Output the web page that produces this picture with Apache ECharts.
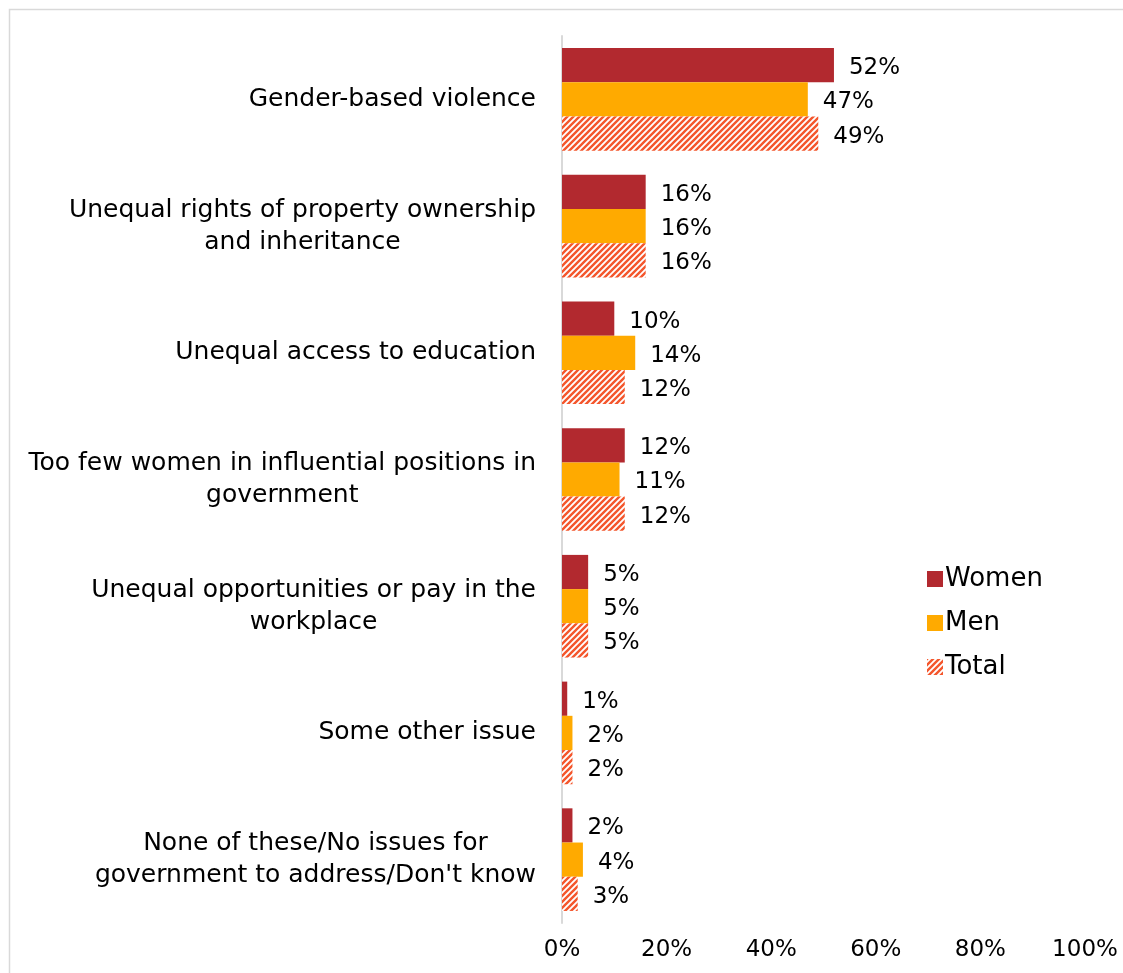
<!DOCTYPE html>
<html>
<head>
<meta charset="utf-8">
<script src="https://cdn.jsdelivr.net/npm/echarts@6/dist/echarts.min.js"></script>
<style>
  html, body { margin: 0; padding: 0; background: #ffffff; }
  #chart { width: 1123px; height: 973px; }
</style>
</head>
<body>
<div id="chart"></div>
<script>
// Issues the government should address, by respondent gender (percent)
const categories = [
  'Gender-based violence',
  'Unequal rights of property ownership\nand inheritance',
  'Unequal access to education',
  'Too few women in influential positions in\ngovernment',
  'Unequal opportunities or pay in the\nworkplace',
  'Some other issue',
  "None of these/No issues for\ngovernment to address/Don't know"
];
const women = [52, 16, 10, 12, 5, 1, 2];
const men   = [47, 16, 14, 11, 5, 2, 4];
const total = [49, 16, 12, 12, 5, 2, 3];
const xTicks = [0, 20, 40, 60, 80, 100];

const FONT = 'DejaVu Sans';
const RED = '#b2292f';
const AMBER = '#ffaa00';
const STRIPE = '#f4562c';

// Diagonal hatch fill for the "Total" series
function makeHatch() {
  const s = 6;
  const c = document.createElement('canvas');
  c.width = s; c.height = s;
  const g = c.getContext('2d');
  g.fillStyle = '#ffffff';
  g.fillRect(0, 0, s, s);
  g.strokeStyle = STRIPE;
  g.lineWidth = 2.4;
  g.beginPath();
  g.moveTo(-1, s + 1); g.lineTo(s + 1, -1);
  g.moveTo(-1, 1); g.lineTo(1, -1);
  g.moveTo(s - 1, s + 1); g.lineTo(s + 1, s - 1);
  g.stroke();
  return { image: c, repeat: 'repeat' };
}
const hatch = makeHatch();

// Multi-line category labels: block right-aligned to the axis, lines centred within it
function catLabel(v) {
  return v.split('\n').map(l => '{c|' + l + '}').join('\n');
}

const valueLabel = {
  show: true,
  position: 'right',
  distance: 15,
  offset: [0, 3],
  formatter: '{c}%',
  fontFamily: FONT,
  fontSize: 23,
  color: '#000000'
};

const chart = echarts.init(document.getElementById('chart'), null, { renderer: 'canvas' });
chart.setOption({
  backgroundColor: '#ffffff',
  animation: false,
  textStyle: { fontFamily: FONT },
  graphic: [{
    type: 'rect',
    silent: true,
    shape: { x: 9.5, y: 9.5, width: 1200, height: 1000 },
    style: { fill: 'none', stroke: '#d9d9d9', lineWidth: 1.5 }
  }],
  grid: { left: 562, right: 38, top: 36, bottom: 50, containLabel: false },
  legend: {
    orient: 'vertical',
    left: 922,
    top: 561,
    itemWidth: 16,
    itemHeight: 16,
    itemGap: 18,
    icon: 'rect',
    textStyle: { fontFamily: FONT, fontSize: 26, color: '#000000', padding: [0, 0, 0, -3] },
    data: ['Women', 'Men', 'Total']
  },
  xAxis: {
    type: 'value',
    min: 0,
    max: 100,
    interval: 20,
    axisLine: { show: false },
    axisTick: { show: false },
    splitLine: { show: false },
    axisLabel: {
      margin: 16,
      fontFamily: FONT,
      fontSize: 23,
      color: '#000000',
      formatter: v => (xTicks.indexOf(v) >= 0 ? v + '%' : '')
    }
  },
  yAxis: {
    type: 'category',
    inverse: true,
    data: categories,
    axisLine: { show: true, lineStyle: { color: '#d9d9d9', width: 2 } },
    axisTick: { show: false },
    axisLabel: {
      margin: 26,
      align: 'right',
      color: '#000000',
      fontFamily: FONT,
      fontSize: 25,
      lineHeight: 32,
      formatter: catLabel,
      rich: {
        c: { align: 'center', fontFamily: FONT, fontSize: 25, lineHeight: 32, color: '#000000' }
      }
    }
  },
  series: [
    {
      name: 'Women', type: 'bar', data: women,
      barGap: '0%', barCategoryGap: '19%',
      itemStyle: { color: RED },
      label: valueLabel
    },
    {
      name: 'Men', type: 'bar', data: men,
      barGap: '0%', barCategoryGap: '19%',
      itemStyle: { color: AMBER },
      label: valueLabel
    },
    {
      name: 'Total', type: 'bar', data: total,
      barGap: '0%', barCategoryGap: '19%',
      itemStyle: { color: hatch },
      label: valueLabel
    }
  ]
});
</script>
</body>
</html>
